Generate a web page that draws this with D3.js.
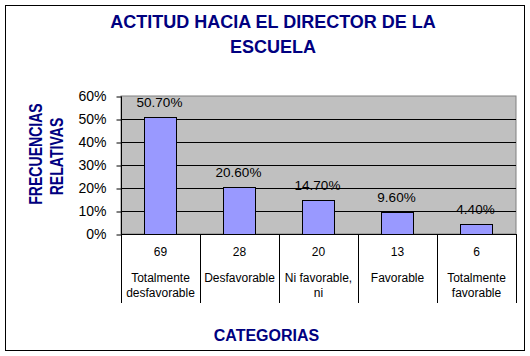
<!DOCTYPE html>
<html>
<head>
<meta charset="utf-8">
<script src="https://cdn.jsdelivr.net/npm/d3@7"></script>
<style>
  html, body { margin: 0; padding: 0; background: #fff; }
  svg { display: block; font-family: Arial, "Liberation Sans", sans-serif; }
</style>
</head>
<body>
<svg id="chart" width="530" height="356"></svg>
<script>
const categories = [
  ["Totalmente", "desfavorable"],
  ["Desfavorable"],
  ["Ni favorable,", "ni"],
  ["Favorable"],
  ["Totalmente", "favorable"]
];
const percentages = [50.7, 20.6, 14.7, 9.6, 4.4];
const counts = [69, 28, 20, 13, 6];
const yTicks = [0, 10, 20, 30, 40, 50, 60];
const titleLines = ["ACTITUD HACIA EL DIRECTOR DE LA", "ESCUELA"];
const yTitleLines = ["FRECUENCIAS", "RELATIVAS"];
const xTitle = "CATEGORIAS";

const svg = d3.select("#chart");
const navy = "#000080";

// outer frame
svg.append("rect").attr("x", 5.5).attr("y", 5.5).attr("width", 519).attr("height", 345)
  .attr("fill", "#fff").attr("stroke", "#000").attr("stroke-width", 1);

const plot = { left: 121, right: 516, top: 96, bottom: 234 };

const x = d3.scaleBand().domain(d3.range(categories.length))
  .range([plot.left, plot.right]).padding(0);
const y = d3.scaleLinear().domain([0, 60]).range([plot.bottom, plot.top]);

// plot background
svg.append("rect").attr("x", plot.left).attr("y", plot.top)
  .attr("width", plot.right - plot.left).attr("height", plot.bottom - plot.top)
  .attr("fill", "#C0C0C0").attr("stroke", "#808080").attr("stroke-width", 1);

// gridlines
svg.append("g").selectAll("line").data(yTicks.filter(t => t > 0 && t < 60)).join("line")
  .attr("x1", plot.left).attr("x2", plot.right)
  .attr("y1", d => Math.round(y(d)) + 0.5).attr("y2", d => Math.round(y(d)) + 0.5)
  .attr("stroke", "#000").attr("stroke-width", 1);

// bars
const barW = x.bandwidth() * 0.405;
svg.append("g").selectAll("rect").data(percentages).join("rect")
  .attr("x", (d, i) => Math.round(x(i) + x.bandwidth() / 2 - barW / 2) + 0.5 - 1)
  .attr("y", d => Math.round(y(d)) + 0.5)
  .attr("width", Math.round(barW))
  .attr("height", d => Math.round(y(0)) - Math.round(y(d)))
  .attr("fill", "#9999FF").attr("stroke", "#000").attr("stroke-width", 1);

// data labels
svg.append("g").selectAll("text").data(percentages).join("text")
  .attr("x", (d, i) => x(i) + x.bandwidth() / 2 - 1)
  .attr("y", d => y(d) - 10)
  .attr("text-anchor", "middle")
  .attr("font-size", "13.5px").attr("fill", "#000")
  .text(d => d.toFixed(2) + "%");

// y axis
const yAxis = d3.axisLeft(y).tickValues(yTicks).tickSize(5).tickPadding(10)
  .tickFormat(d => d + "%");
const gy = svg.append("g").attr("transform", `translate(${plot.left + 0.5},0.5)`).call(yAxis);
gy.select(".domain").attr("stroke", "#000").attr("d", `M0,${plot.top}V${plot.bottom}`);
gy.selectAll(".tick line").attr("stroke", "#000");
gy.selectAll(".tick text").attr("font-size", "14px").attr("fill", "#000")
  .attr("font-family", "Arial, 'Liberation Sans', sans-serif");

// x axis baseline and category table lines
svg.append("line").attr("x1", plot.left).attr("x2", plot.right + 1)
  .attr("y1", plot.bottom + 0.5).attr("y2", plot.bottom + 0.5).attr("stroke", "#000");
const bounds = d3.range(categories.length + 1).map(i => i < categories.length ? x(i) : x(i - 1) + x.bandwidth());
svg.append("g").selectAll("line").data(bounds).join("line")
  .attr("x1", d => Math.round(d) + 0.5).attr("x2", d => Math.round(d) + 0.5)
  .attr("y1", plot.bottom).attr("y2", 303)
  .attr("stroke", "#000");

// counts
svg.append("g").selectAll("text").data(counts).join("text")
  .attr("x", (d, i) => x(i) + x.bandwidth() / 2)
  .attr("y", 256)
  .attr("text-anchor", "middle").attr("font-size", "12px").attr("fill", "#000")
  .text(d => d);

// category labels
const catG = svg.append("g").selectAll("text").data(categories).join("text")
  .attr("x", (d, i) => x(i) + x.bandwidth() / 2)
  .attr("y", 282)
  .attr("text-anchor", "middle").attr("font-size", "12px").attr("fill", "#000");
catG.selectAll("tspan").data(d => d).join("tspan")
  .attr("x", function () { return d3.select(this.parentNode).attr("x"); })
  .attr("dy", (d, j) => j === 0 ? 0 : 15)
  .text(d => d);

// title
svg.append("g").selectAll("text").data(titleLines).join("text")
  .attr("x", 273).attr("y", (d, i) => 28 + i * 24.5)
  .attr("text-anchor", "middle").attr("font-size", "18px").attr("font-weight", "bold")
  .attr("fill", navy).text(d => d);

// y title (stretched like the original rotated text)
const yTitleCenters = [154, 156.5];
svg.append("g").selectAll("text").data(yTitleLines).join("text")
  .attr("transform", (d, i) => `translate(${42 + i * 21},${yTitleCenters[i]}) rotate(-90) scale(0.74,1)`)
  .attr("text-anchor", "middle").attr("font-size", "19px").attr("font-weight", "bold")
  .attr("fill", navy).text(d => d);

// x title
svg.append("text").attr("x", 266.5).attr("y", 341)
  .attr("text-anchor", "middle").attr("font-size", "16px").attr("font-weight", "bold")
  .attr("fill", navy).text(xTitle);
</script>
</body>
</html>
